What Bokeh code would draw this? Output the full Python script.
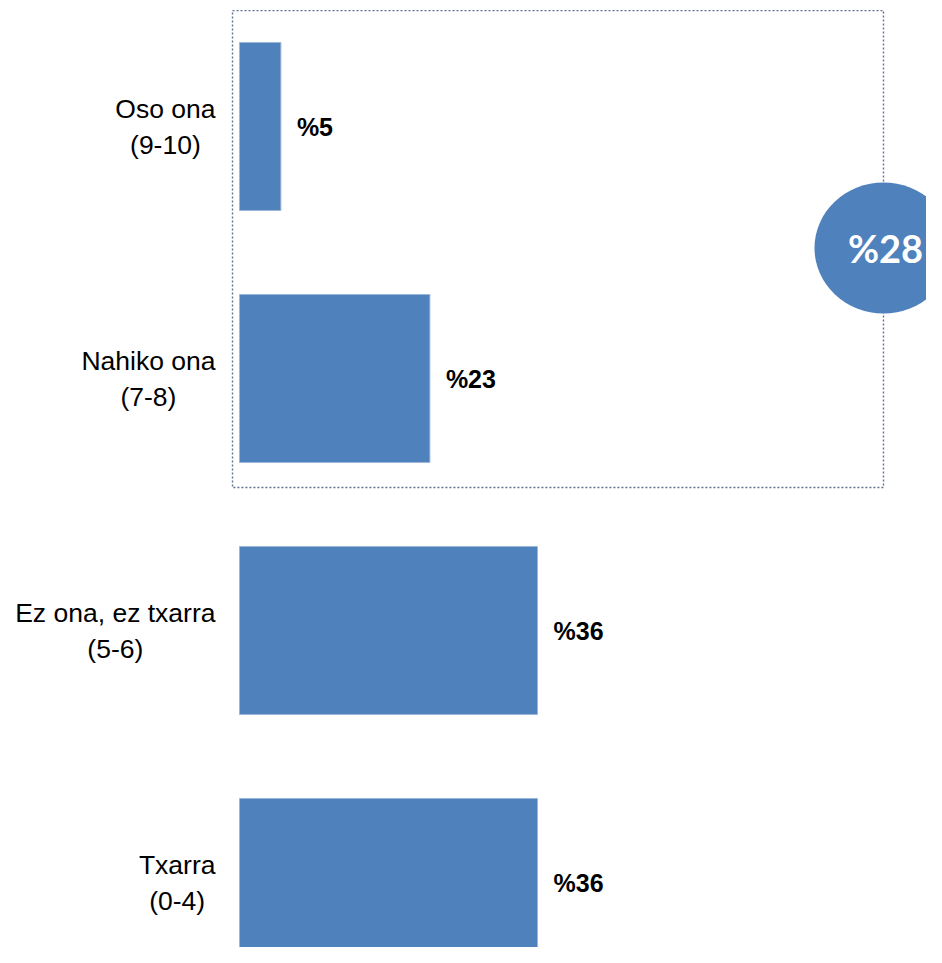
from bokeh.plotting import figure
from bokeh.models import Range1d, ColumnDataSource, BoxAnnotation
from bokeh.core.properties import value
from bokeh.embed import file_html
from bokeh.resources import INLINE

# ---- data ----
categories = ["Oso ona\n(9-10)", "Nahiko ona\n(7-8)", "Ez ona, ez txarra\n(5-6)", "Txarra\n(0-4)"]
values = [5, 23, 36, 36]
value_labels = ["%" + str(v) for v in values]
group_count = 2  # the first two categories are grouped in the dotted box
group_label = "%" + str(sum(values[:group_count]))

# ---- style / layout ----
BLUE = "#4f81bd"
W, H = 926, 947
PX_PER_UNIT = 8.278
ZERO_PX = 239
ROW_PX = 252
ROW0_PX = 126

y = list(range(len(categories)))
src = ColumnDataSource(dict(y=y, v=values, lab=value_labels, cat=categories))

p = figure(width=W, height=H, output_backend="svg", toolbar_location=None,
           x_range=Range1d(-ZERO_PX / PX_PER_UNIT, (W - ZERO_PX) / PX_PER_UNIT),
           y_range=Range1d((H - ROW0_PX) / ROW_PX, -ROW0_PX / ROW_PX),
           x_axis_location=None, y_axis_location=None, min_border=0)
p.grid.visible = False
p.outline_line_color = None
p.background_fill_color = "white"
p.border_fill_color = "white"

# dotted grouping box around the first two categories (drawn beneath the glyphs)
box_left = -7 / PX_PER_UNIT
box_right = 644 / PX_PER_UNIT
box_top = 0 - 0.46
box_bottom = (group_count - 1) + 0.4325
p.add_layout(BoxAnnotation(left=box_left, right=box_right, top=box_top, bottom=box_bottom,
                           fill_alpha=0, fill_color=None, line_color="#5f7090",
                           line_alpha=1.0, line_width=1.4, line_dash="2 2",
                           level="underlay"))

# bars
p.hbar(y="y", left=0, right="v", height=0.667, source=src,
       fill_color=BLUE, line_color="#9db6d9", line_width=1)

# value labels
p.text(x="v", y="y", text="lab", source=src, x_offset=16,
       text_align="left", text_baseline="middle",
       text_font=value("Liberation Sans"), text_font_style="bold",
       text_font_size="25px", text_color="black")

# category labels (lines centered, block right-aligned)
p.text(x=0, y="y", text="cat", source=src, x_offset=-24,
       anchor="center_right", text_align="center", text_baseline="middle",
       text_font=value("Liberation Sans"), text_font_size="26.5px",
       text_color="black", text_line_height=1.2)

# circle with the group total
cy = (group_count - 1) / 2 - 0.018
p.ellipse(x=[box_right], y=[cy], width=138, height=131,
          width_units="screen", height_units="screen",
          fill_color=BLUE, line_color=None)
p.text(x=[box_right], y=[cy], text=[group_label], x_offset=2,
       text_align="center", text_baseline="middle",
       text_font=value("Lato"), text_font_style="bold",
       text_font_size="38px", text_color="white")

open("out.html", "w").write(file_html(p, INLINE))
